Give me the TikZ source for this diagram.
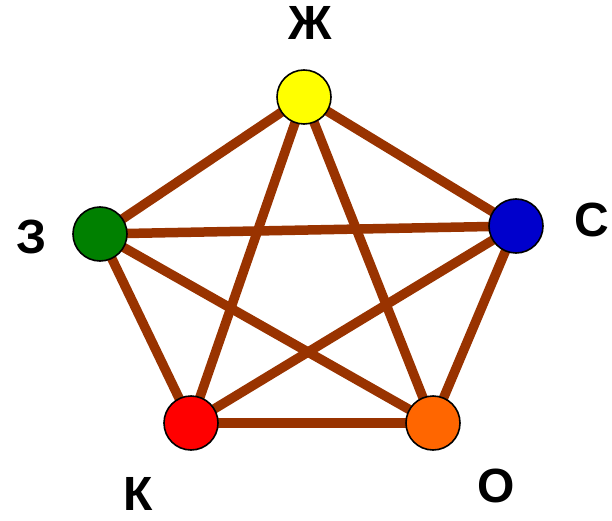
\documentclass[tikz,border=0pt]{standalone}
\usepackage{fontspec}
\setmainfont{Liberation Sans}
\usepackage{tikz}
\usetikzlibrary{positioning}
\definecolor{edgebrown}{HTML}{993300}
\definecolor{cyellow}{HTML}{FFFF00}
\definecolor{cgreen}{HTML}{008000}
\definecolor{cblue}{HTML}{0000CC}
\definecolor{cred}{HTML}{FF0000}
\definecolor{corange}{HTML}{FF6600}

\begin{document}
\begin{tikzpicture}[
  x=1pt,y=-1pt,
  vertex/.style={circle,draw=black,line width=1.6pt,minimum size=54pt,inner sep=0pt},
  edge/.style={draw=edgebrown,line width=9.5pt},
  letter/.style={font=\fontsize{48}{48}\selectfont\bfseries,inner sep=0pt}
]
\useasboundingbox (0,0) rectangle (612,521);
\coordinate (pzh) at (304,97);
\coordinate (pz) at (100,234);
\coordinate (ps) at (516,226);
\coordinate (pk) at (191,423);
\coordinate (po) at (433,423);
% edges first, circles on top
\draw[edge] (pzh) -- (pz);
\draw[edge] (pzh) -- (ps);
\draw[edge] (pzh) -- (pk);
\draw[edge] (pzh) -- (po);
\draw[edge] (pz) -- (ps);
\draw[edge] (pz) -- (pk);
\draw[edge] (pz) -- (po);
\draw[edge] (ps) -- (pk);
\draw[edge] (ps) -- (po);
\draw[edge] (pk) -- (po);
\node[vertex,fill=cyellow] (zh) at (pzh) {};
\node[vertex,fill=cgreen] (z) at (pz) {};
\node[vertex,fill=cblue] (s) at (ps) {};
\node[vertex,fill=cred] (k) at (pk) {};
\node[vertex,fill=corange] (o) at (po) {};
\node[letter] (lzh) at (310,23) {Ж};
\node[letter] (lz) at (32,237) {З};
\node[letter] (ls) at (592,220) {С};
\node[letter] (lk) at (138,494) {К};
\node[letter] (lo) at (496,486) {О};
\end{tikzpicture}
\end{document}
